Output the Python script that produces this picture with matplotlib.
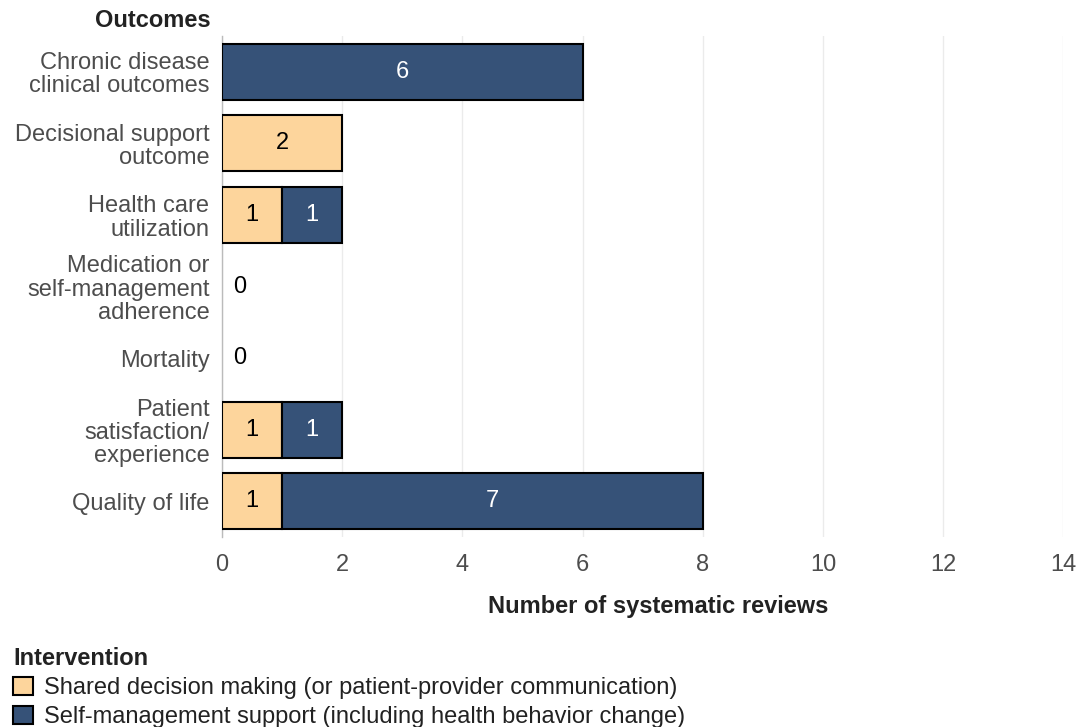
import matplotlib.pyplot as plt
import matplotlib.transforms as mtransforms
from matplotlib.patches import Patch

plt.rcParams['font.family'] = ['Liberation Sans', 'DejaVu Sans']

outcomes = ["Chronic disease\nclinical outcomes", "Decisional support\noutcome",
            "Health care\nutilization", "Medication or\nself-management\nadherence",
            "Mortality", "Patient\nsatisfaction/\nexperience", "Quality of life"]
shared = [0, 2, 1, 0, 0, 1, 1]
selfman = [6, 0, 1, 0, 0, 1, 7]
series_names = ["Shared decision making (or patient-provider communication)",
                "Self-management support (including health behavior change)"]
xticks = [0, 2, 4, 6, 8, 10, 12, 14]

c_shared = "#FDD59C"
c_self = "#365278"
grey = "#4D4D4D"
fs = 17

fig = plt.figure(figsize=(10.79, 7.27), dpi=100)
ax = fig.add_axes([0.2057, 0.2613, 0.7798, 0.6892])

y = list(range(len(outcomes)))
for i in y:
    if shared[i] > 0:
        ax.barh(i, shared[i], height=0.78, color=c_shared, edgecolor="black", linewidth=1.5, zorder=3)
        ax.text(shared[i] / 2, i, str(shared[i]), ha="center", va="center",
                fontsize=fs, color="black", zorder=4)
    if selfman[i] > 0:
        ax.barh(i, selfman[i], left=shared[i], height=0.78, color=c_self, edgecolor="black",
                linewidth=1.5, zorder=3)
        ax.text(shared[i] + selfman[i] / 2, i, str(selfman[i]), ha="center", va="center",
                fontsize=fs, color="white", zorder=4)
    if shared[i] == 0 and selfman[i] == 0:
        ax.annotate("0", xy=(0, i), xytext=(8, 0), textcoords="offset points",
                    ha="left", va="center", fontsize=fs, color="black")

ax.set_xlim(0, 14)
ax.set_ylim(len(outcomes) - 0.5, -0.5)
ax.set_xticks(xticks)
ax.set_yticks(y)
ax.set_yticklabels(outcomes, fontsize=fs, color=grey, linespacing=1.07)
# nudge category labels up a few pixels
shift = mtransforms.ScaledTranslation(0, 0.035, fig.dpi_scale_trans)
for lab in ax.get_yticklabels():
    lab.set_transform(lab.get_transform() + shift)
ax.tick_params(axis="x", labelsize=fs, labelcolor=grey, length=0, pad=12)
ax.tick_params(axis="y", length=0, pad=9)
ax.grid(axis="x", color="#EBEBEB", linewidth=1, zorder=0)
for s in ["top", "right", "bottom"]:
    ax.spines[s].set_visible(False)
ax.spines["left"].set_color("#BBBBBB")
ax.spines["left"].set_linewidth(1)

ax.set_xlabel("Number of systematic reviews", fontsize=fs, fontweight="bold",
              color="#222222")
ax.xaxis.set_label_coords(0.518, -0.115)
fig.text(0.195, 0.972, "Outcomes", ha="right", va="center", fontsize=fs,
         fontweight="bold", color="#222222")

handles = [Patch(facecolor=c_shared, edgecolor="black", linewidth=1.5),
           Patch(facecolor=c_self, edgecolor="black", linewidth=1.5)]
leg = fig.legend(handles, series_names, loc="lower left", bbox_to_anchor=(-0.001, -0.021),
                 title="Intervention", frameon=False, fontsize=fs,
                 title_fontproperties={"weight": "bold", "size": fs},
                 handlelength=0.85, handleheight=0.85, handletextpad=0.48,
                 labelspacing=0.27, alignment="left", borderaxespad=0.2)
for t in leg.get_texts():
    t.set_color("#222222")
leg.get_title().set_color("#222222")

fig.savefig("out.png", dpi=100)
